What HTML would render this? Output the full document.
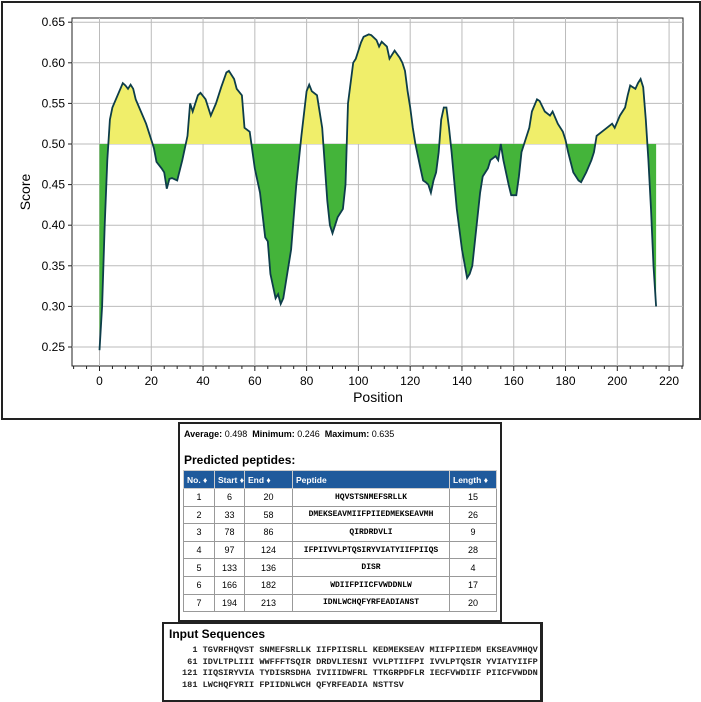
<!DOCTYPE html>
<html><head><meta charset="utf-8"><style>
body{margin:0;width:701px;height:702px;background:#fff;position:relative;font-family:"Liberation Sans",sans-serif;overflow:hidden}
.frame{position:absolute;left:1px;top:1px;width:696px;height:415px;border:2px solid #222}
.box1{position:absolute;left:178px;top:422px;width:320px;height:196px;border:2px solid #222}
.box2{position:absolute;left:162px;top:622px;width:376px;height:76px;border:2px solid #222;border-right-width:3px}
table{border-collapse:collapse;position:absolute;left:3px;top:46px;font-size:9px;table-layout:fixed;width:313px}
th{background:#1f5a9c;color:#fff;text-align:left;height:17px;padding:0 3px;border:1px solid #ccc;font-size:8.5px;white-space:nowrap;overflow:hidden}
td{border:1px solid #999;height:16.6px;text-align:center;padding:0;white-space:nowrap}
.pep{font-family:"Liberation Mono",monospace;font-size:8px;font-weight:bold}
</style></head><body>
<div class="frame"></div>
<svg width="701" height="420" style="position:absolute;left:0;top:0" id="ch"></svg>
<div class="box1">
<div style="position:absolute;left:4px;top:5px;font-size:9px"><b>Average:</b> 0.498 &nbsp;<b>Minimum:</b> 0.246 &nbsp;<b>Maximum:</b> 0.635</div>
<div style="position:absolute;left:4px;top:29px;font-size:12px;font-weight:bold">Predicted peptides:</div>
<table>
<colgroup><col style="width:31px"><col style="width:30px"><col style="width:48px"><col style="width:157px"><col style="width:47px"></colgroup>
<tr><th>No. ♦</th><th>Start ♦</th><th>End ♦</th><th>Peptide</th><th>Length ♦</th></tr>
<tr><td>1</td><td>6</td><td>20</td><td class="pep">HQVSTSNMEFSRLLK</td><td>15</td></tr>
<tr><td>2</td><td>33</td><td>58</td><td class="pep">DMEKSEAVMIIFPIIEDMEKSEAVMH</td><td>26</td></tr>
<tr><td>3</td><td>78</td><td>86</td><td class="pep">QIRDRDVLI</td><td>9</td></tr>
<tr><td>4</td><td>97</td><td>124</td><td class="pep">IFPIIVVLPTQSIRYVIATYIIFPIIQS</td><td>28</td></tr>
<tr><td>5</td><td>133</td><td>136</td><td class="pep">DISR</td><td>4</td></tr>
<tr><td>6</td><td>166</td><td>182</td><td class="pep">WDIIFPIICFVWDDNLW</td><td>17</td></tr>
<tr><td>7</td><td>194</td><td>213</td><td class="pep">IDNLWCHQFYRFEADIANST</td><td>20</td></tr>
</table></div>
<div class="box2">
<div style="position:absolute;left:5px;top:3px;font-size:12px;font-weight:bold">Input Sequences</div>
<pre style="position:absolute;left:18px;top:21px;margin:0;font-family:'Liberation Mono',monospace;font-size:8.6px;line-height:11.5px;font-weight:bold;color:#222">  1 TGVRFHQVST SNMEFSRLLK IIFPIISRLL KEDMEKSEAV MIIFPIIEDM EKSEAVMHQV
 61 IDVLTPLIII WWFFFTSQIR DRDVLIESNI VVLPTIIFPI IVVLPTQSIR YVIATYIIFP
121 IIQSIRYVIA TYDISRSDHA IVIIIDWFRL TTKGRPDFLR IECFVWDIIF PIICFVWDDN
181 LWCHQFYRII FPIIDNLWCH QFYRFEADIA NSTTSV</pre>
</div>
<script>
var d=[[0,.246],[1,.30],[2,.40],[3,.48],[4,.53],[5,.545],[7,.56],[9,.575],[10,.572],[11,.568],[12,.573],[13,.568],[14,.555],[16,.54],[18,.525],[20,.505],[21,.495],[22,.478],[24,.47],[25,.465],[26,.445],[27,.457],[28,.458],[30,.455],[32,.48],[34,.51],[35,.55],[36,.54],[38,.56],[39,.563],[41,.555],[43,.535],[45,.55],[47,.57],[49,.588],[50,.59],[52,.58],[53,.568],[55,.56],[56,.52],[58,.515],[60,.47],[62,.44],[64,.385],[65,.38],[66,.34],[68,.31],[69,.315],[70,.303],[71,.31],[72,.33],[74,.37],[76,.45],[78,.51],[80,.565],[81,.573],[82,.565],[84,.56],[86,.52],[88,.43],[89,.4],[90,.39],[91,.40],[92,.41],[94,.42],[95,.45],[96,.55],[98,.6],[99,.605],[100,.615],[101,.625],[102,.632],[104,.635],[105,.634],[107,.628],[108,.62],[109,.626],[111,.62],[112,.605],[114,.615],[116,.606],[117,.60],[118,.59],[119,.565],[120,.545],[121,.52],[122,.50],[124,.47],[125,.455],[126,.453],[127,.45],[128,.44],[129,.455],[130,.465],[131,.49],[132,.53],[133,.545],[134,.545],[135,.52],[136,.49],[138,.42],[140,.37],[142,.335],[143,.34],[144,.35],[145,.38],[147,.44],[148,.46],[150,.47],[151,.48],[153,.485],[154,.48],[155,.50],[156,.48],[158,.45],[159,.437],[161,.437],[162,.46],[163,.49],[164,.50],[166,.52],[167,.54],[169,.555],[170,.553],[172,.54],[174,.535],[175,.54],[177,.525],[179,.515],[180,.505],[181,.49],[183,.465],[185,.455],[186,.453],[188,.465],[190,.48],[191,.49],[192,.51],[194,.515],[196,.52],[198,.525],[199,.52],[201,.535],[203,.545],[204,.56],[205,.572],[206,.57],[207,.568],[208,.575],[209,.58],[210,.57],[211,.53],[212,.48],[213,.42],[214,.35],[215,.30]];
function X(v){return 99.5+v*2.589}function Y(s){return 144-(s-.5)*812}
var s='';
s+='<rect x="72" y="18" width="611" height="348" fill="#fff" stroke="#222" stroke-width="1"/>';
for(var i=0;i<=220;i+=20){s+='<line x1="'+X(i)+'" x2="'+X(i)+'" y1="18" y2="366" stroke="#bbb"/>';}
for(var v=.25;v<.66;v+=.05){var y=Y(v);s+='<line x1="72" x2="683" y1="'+y+'" y2="'+y+'" stroke="#bbb"/><line x1="68" x2="72" y1="'+y+'" y2="'+y+'" stroke="#222"/><text x="65" y="'+(y+4)+'" text-anchor="end" font-size="12">'+v.toFixed(2)+'</text>';}
for(var i=-10;i<=225;i+=5){s+='<line x1="'+X(i)+'" x2="'+X(i)+'" y1="366" y2="'+(i%20==0?371:369)+'" stroke="#222"/>';}
for(var i=0;i<=220;i+=20)s+='<text x="'+X(i)+'" y="385" text-anchor="middle" font-size="12">'+i+'</text>';
var p=d.map(function(a){return X(a[0]).toFixed(1)+','+Y(a[1]).toFixed(1)}).join(' ');
var poly=X(0)+','+Y(.5)+' '+p+' '+X(215)+','+Y(.5);
s+='<defs><clipPath id="up"><rect x="0" y="0" width="701" height="'+Y(.5)+'"/></clipPath><clipPath id="dn"><rect x="0" y="'+Y(.5)+'" width="701" height="300"/></clipPath></defs>';
s+='<polygon points="'+poly+'" fill="#f0ee6a" clip-path="url(#up)"/><polygon points="'+poly+'" fill="#44b43a" clip-path="url(#dn)"/>';
s+='<polyline points="'+p+'" fill="none" stroke="#0d3d4a" stroke-width="1.8"/>';
s+='<text x="378" y="402" text-anchor="middle" font-size="14">Position</text><text transform="translate(30,192) rotate(-90)" text-anchor="middle" font-size="14">Score</text>';
document.getElementById('ch').innerHTML=s;
</script>
</body></html>
